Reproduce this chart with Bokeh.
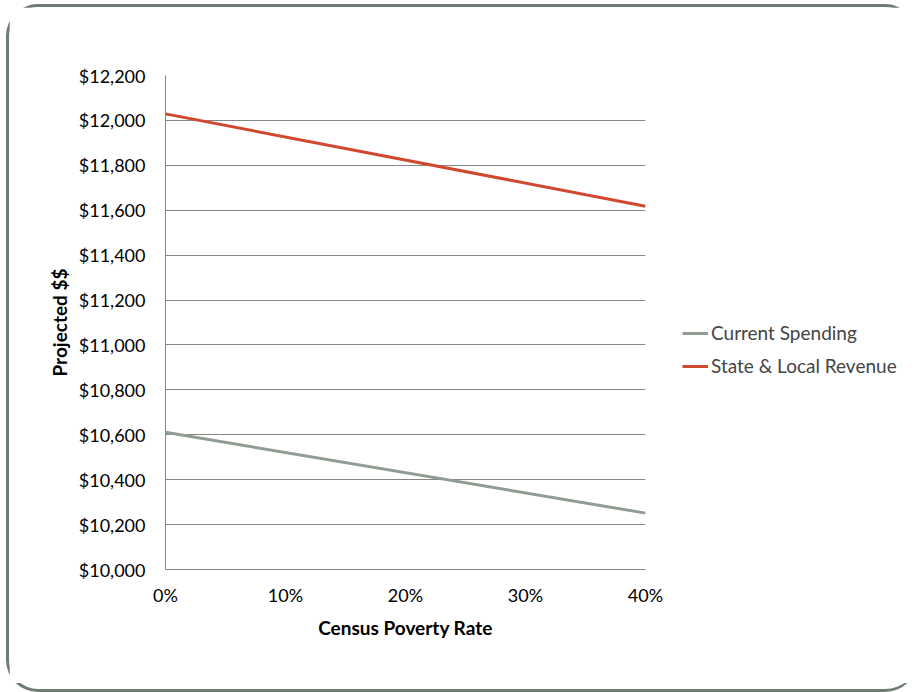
from bokeh.plotting import figure
from bokeh.models import Range1d, FixedTicker, NumeralTickFormatter, Legend, LegendItem
from bokeh.embed import file_html
from bokeh.resources import INLINE

# ---- data ----
poverty_rate = [0.0, 0.40]
current_spending = [10611, 10251]
state_local_revenue = [12029, 11618]
x_ticks = [0.0, 0.1, 0.2, 0.3, 0.4]
y_ticks = [10000, 10200, 10400, 10600, 10800, 11000, 11200, 11400, 11600, 11800, 12000, 12200]
series_names = ["Current Spending", "State & Local Revenue"]

FONT = "Lato"
GRID = "#868686"
RED = "#D0492F"
GRAY = "#8E9E93"

p = figure(frame_width=480, frame_height=494,
           min_border_left=156, min_border_right=265,
           min_border_top=68, min_border_bottom=114,
           x_range=Range1d(0, 0.4), y_range=Range1d(10000, 12200),
           output_backend="svg", toolbar_location=None,
           background_fill_color="white", border_fill_color="white")
p.outline_line_color = None
p.styles = {"border": "3px solid #6E7D73", "border-right": "none",
            "border-radius": "32px",
            "margin": "4px 0px 0px 6px", "box-sizing": "border-box",
            "width": "911px", "height": "688px"}

# axes
p.xaxis.ticker = FixedTicker(ticks=x_ticks)
p.yaxis.ticker = FixedTicker(ticks=y_ticks)
p.xaxis.formatter = NumeralTickFormatter(format="0%")
p.yaxis.formatter = NumeralTickFormatter(format="$0,0")
for ax in (p.xaxis[0], p.yaxis[0]):
    ax.major_tick_line_color = None
    ax.minor_tick_line_color = None
    ax.major_tick_out = 0
    ax.major_tick_in = 0
    ax.axis_line_color = GRID
    ax.axis_line_width = 1
    ax.major_label_text_font = FONT
    ax.major_label_text_font_size = "18px"
    ax.major_label_text_color = "black"
    ax.axis_label_text_font = FONT
    ax.axis_label_text_font_size = "19px"
    ax.axis_label_text_font_style = "bold"
    ax.axis_label_text_color = "black"
p.xaxis.axis_label = "Census Poverty Rate"
p.yaxis.axis_label = "Projected $$"
p.yaxis.major_label_standoff = 20
p.xaxis.major_label_standoff = 14
p.yaxis.axis_label_standoff = 5
p.xaxis.axis_label_standoff = 7

p.xgrid.grid_line_color = None
p.ygrid.grid_line_color = GRID
p.ygrid.grid_line_width = 1

r1 = p.line(poverty_rate, current_spending, line_color=GRAY, line_width=3)
r2 = p.line(poverty_rate, state_local_revenue, line_color=RED, line_width=3)

legend = Legend(items=[LegendItem(label=series_names[0], renderers=[r1]),
                       LegendItem(label=series_names[1], renderers=[r2])],
                location=(37, 192), padding=0, margin=0, spacing=10,
                glyph_width=26, glyph_height=20, label_height=20, label_standoff=3,
                label_text_font=FONT, label_text_font_size="19px",
                border_line_color=None, background_fill_alpha=0)
p.add_layout(legend, "right")

open("out.html", "w").write(file_html(p, INLINE))
